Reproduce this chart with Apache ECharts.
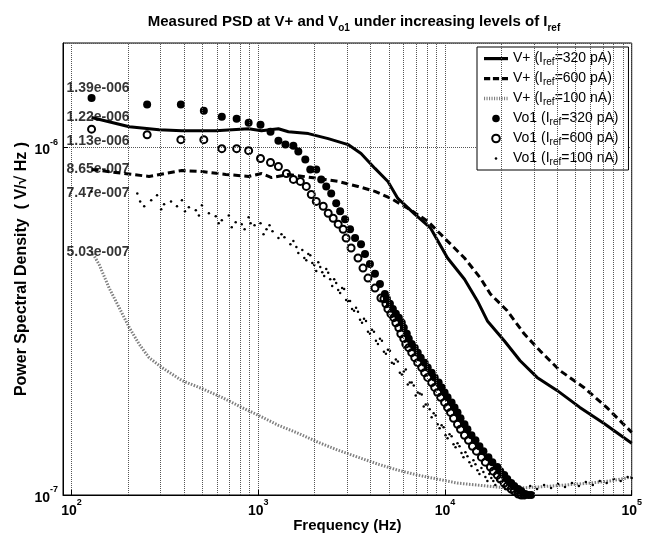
<!DOCTYPE html>
<html><head><meta charset="utf-8">
<script src="https://cdn.jsdelivr.net/npm/echarts@6/dist/echarts.min.js"></script>
<style>html,body{margin:0;padding:0;background:#fff}#c{width:645px;height:538px}</style>
</head><body><div id="c"></div>
<script>
// ---- data (frequency in Hz, PSD in V/sqrt(Hz)) ----
const freqVp320 = [128,204,294,390,592,888,1041,1282,1450,1854,2369,3027,3551,4217,4947,5590,6887,8380,10320,12720,14920,16870,20770,25270,31130,39810,52780,70800,100000];
const psdVp320  = [1.22e-6,1.148e-6,1.126e-6,1.118e-6,1.118e-6,1.133e-6,1.118e-6,1.133e-6,1.111e-6,1.097e-6,1.061e-6,1.020e-6,0.961e-6,0.871e-6,0.799e-6,0.714e-6,0.643e-6,0.586e-6,0.481e-6,0.418e-6,0.362e-6,0.317e-6,0.278e-6,0.2435e-6,0.218e-6,0.200e-6,0.1787e-6,0.1608e-6,0.141e-6];

const freqVp600 = [128,211,260,390,499,670,888,1041,1178,1450,2096,2679,3421,4217,5129,6319,8077,10320,12720,15480,17500,21550,26550,32310,41300,55420,73450,100000];
const psdVp600  = [8.65e-7,8.37e-7,8.26e-7,8.59e-7,8.53e-7,8.37e-7,8.26e-7,8.42e-7,8.20e-7,8.37e-7,8.15e-7,7.99e-7,7.73e-7,7.48e-7,7.14e-7,6.69e-7,6.14e-7,5.38e-7,4.81e-7,4.21e-7,3.79e-7,3.39e-7,2.91e-7,2.60e-7,2.28e-7,2.04e-7,1.787e-7,1.515e-7];

const freqVp100 = [128,141,159,180,204,230,260,305,390,499,638,815,1004,1282,1639,2096,2679,3421,4375,5590,7145,9133,11670,14920,19070,24370,31130,43360,59660,76210,100000];
const psdVp100  = [5.03e-7,4.59e-7,3.94e-7,3.46e-7,3.03e-7,2.72e-7,2.485e-7,2.327e-7,2.135e-7,2.025e-7,1.91e-7,1.787e-7,1.695e-7,1.587e-7,1.505e-7,1.418e-7,1.345e-7,1.285e-7,1.227e-7,1.179e-7,1.141e-7,1.111e-7,1.082e-7,1.068e-7,1.054e-7,1.047e-7,1.054e-7,1.068e-7,1.082e-7,1.097e-7,1.126e-7];

const freqVo320 = [128,254,385,511,638,766,888,1028,1163,1282,1398,1542,1639,1786,1899,2045,2173,2312,2458,2614,2745,2917,3102,3299,3551,3729,3963,4217,4484,
  4766,4886,5070,5258,5456,5659,5872,6017,6244,6397,6637,6887,7145,7413,7783,8077,8483,8806,9245,9592,9952,10320,10850,11250,11670,12110,12720,13190,13860,14560,15290,16060,17080,17930,19070,19780,20770,21550,22630,23490,24670,25600,26880,27890,28930];
const psdVo320  = [1.39e-6,1.33e-6,1.33e-6,1.276e-6,1.227e-6,1.211e-6,1.179e-6,1.164e-6,1.111e-6,1.047e-6,1.020e-6,1.013e-6,0.974e-6,0.924e-6,0.865e-6,0.865e-6,0.810e-6,0.773e-6,0.738e-6,0.691e-6,0.656e-6,0.622e-6,0.582e-6,0.549e-6,0.527e-6,0.494e-6,0.462e-6,0.433e-6,0.405e-6,
  0.379e-6,0.367e-6,0.355e-6,0.3433e-6,0.3322e-6,0.324e-6,0.3132e-6,0.303e-6,0.291e-6,0.2818e-6,0.272e-6,0.2655e-6,0.2569e-6,0.2485e-6,0.2404e-6,0.2327e-6,0.225e-6,0.218e-6,0.2107e-6,0.204e-6,0.1973e-6,0.191e-6,0.1847e-6,0.1787e-6,0.1729e-6,0.1662e-6,0.1597e-6,0.1546e-6,0.1486e-6,0.1437e-6,0.1381e-6,0.1337e-6,0.1285e-6,0.1243e-6,0.1203e-6,0.1171e-6,0.1141e-6,0.1111e-6,0.1082e-6,0.1061e-6,0.104e-6,0.1027e-6,0.1007e-6,0.100e-6,0.100e-6];

const freqVo600 = [128,254,385,511,638,766,888,1028,1163,1282,1415,1542,1680,1808,1923,2045,2228,2369,2519,2679,2848,2954,3141,3421,3638,3869,4217,4539,
  4709,4826,4947,5131,5324,5456,5659,5800,6017,6167,6397,6637,6887,7145,7506,7783,8077,8483,8806,9133,9476,9952,10320,10710,11110,11670,12110,12720,13360,14030,14740,15670,16450,17500,18150,19070,19780,20770,21550,22630,23490,24670,25600,26550];
const psdVo600  = [1.13e-6,1.089e-6,1.054e-6,1.054e-6,0.993e-6,0.993e-6,0.980e-6,0.930e-6,0.906e-6,0.882e-6,0.842e-6,0.810e-6,0.799e-6,0.773e-6,0.733e-6,0.700e-6,0.678e-6,0.647e-6,0.626e-6,0.602e-6,0.582e-6,0.549e-6,0.514e-6,0.481e-6,0.450e-6,0.421e-6,0.394e-6,0.369e-6,
  0.367e-6,0.355e-6,0.3433e-6,0.3322e-6,0.324e-6,0.3132e-6,0.303e-6,0.291e-6,0.2818e-6,0.272e-6,0.2655e-6,0.2569e-6,0.2485e-6,0.2404e-6,0.2327e-6,0.225e-6,0.218e-6,0.2107e-6,0.204e-6,0.1973e-6,0.191e-6,0.1847e-6,0.1787e-6,0.1729e-6,0.1662e-6,0.1597e-6,0.1546e-6,0.1486e-6,0.1437e-6,0.1381e-6,0.1337e-6,0.1285e-6,0.1243e-6,0.1203e-6,0.1171e-6,0.1141e-6,0.1111e-6,0.1082e-6,0.1061e-6,0.104e-6,0.1027e-6,0.1007e-6,0.100e-6,0.100e-6];

const freqVo100 = [128,225,245,267,287,313,341,367,390,425,463,499,544,592,638,695,757,815,888,955,1028,1107,1192,1282,1381,1486,1600,
  1722,1808,1899,1995,2096,2201,2312,2428,2550,2679,2813,2954,3102,3258,3421,3595,3776,3963,4165,4375,4595,4826,5070,5324,5590,5872,6167,6477,6804,7145,7506,7882,8279,8697,9133,9592,10070,10580,11110,11670,12260,12870,13520,14200,14920,15670,16450,17280,18150,19070,20270,21550,22920,24370,
  26230,28590,31130,33940,36980,40300,43910,47840,52130,56800,61890,67450,73450,80110,87290,95100,100000,
  1765,1854,1947,2045,2147,2255,2369,2488,2614,2745,2883,3027,3180,3340,3508,3684,3869,4064,4268,4484,4709,4947,5193,5456,5731,6017,6319,6637,6972,7322,7691,8077,8483,8913,9359,9829,10320,10850,11390,11960,12560,13190,13860,14560,15290,16060,16870,17710,18600,19780,21030,22360,23780,
  233,302,405,481,614,721,845,910,1067,1149,1331,1542,1639];
const psdVo100  = [7.47e-7,7.38e-7,6.78e-7,7.05e-7,7.29e-7,6.87e-7,7.00e-7,6.78e-7,7.05e-7,6.73e-7,6.60e-7,6.82e-7,6.47e-7,6.34e-7,6.18e-7,6.38e-7,6.10e-7,6.02e-7,6.30e-7,5.98e-7,6.06e-7,5.82e-7,5.74e-7,5.49e-7,5.52e-7,5.27e-7,5.17e-7,
  5.07e-7,4.74e-7,4.90e-7,4.59e-7,4.68e-7,4.38e-7,4.47e-7,4.18e-7,4.18e-7,3.89e-7,3.94e-7,3.64e-7,3.62e-7,3.39e-7,3.367e-7,3.132e-7,3.17e-7,2.91e-7,2.95e-7,2.72e-7,2.78e-7,2.552e-7,2.60e-7,2.388e-7,2.421e-7,2.222e-7,2.296e-7,2.107e-7,2.066e-7,1.973e-7,1.948e-7,1.823e-7,1.764e-7,1.718e-7,1.597e-7,1.587e-7,1.486e-7,1.496e-7,1.40e-7,1.41e-7,1.32e-7,1.328e-7,1.243e-7,1.26e-7,1.179e-7,1.195e-7,1.126e-7,1.149e-7,1.097e-7,1.104e-7,1.061e-7,1.075e-7,1.04e-7,1.054e-7,
  1.033e-7,1.061e-7,1.04e-7,1.068e-7,1.047e-7,1.075e-7,1.054e-7,1.082e-7,1.061e-7,1.09e-7,1.068e-7,1.097e-7,1.082e-7,1.111e-7,1.097e-7,1.126e-7,1.119e-7,
  4.81e-7,4.94e-7,4.65e-7,4.41e-7,4.53e-7,4.27e-7,4.36e-7,3.996e-7,4.076e-7,3.817e-7,3.918e-7,3.62e-7,3.433e-7,3.46e-7,3.193e-7,3.214e-7,2.95e-7,2.989e-7,2.78e-7,2.818e-7,2.586e-7,2.62e-7,2.404e-7,2.453e-7,2.25e-7,2.266e-7,2.08e-7,2.107e-7,1.935e-7,1.96e-7,1.799e-7,1.823e-7,1.673e-7,1.695e-7,1.556e-7,1.566e-7,1.457e-7,1.476e-7,1.373e-7,1.381e-7,1.285e-7,1.293e-7,1.211e-7,1.227e-7,1.149e-7,1.164e-7,1.097e-7,1.119e-7,1.068e-7,1.09e-7,1.04e-7,1.061e-7,1.027e-7,
  7.00e-7,6.64e-7,6.56e-7,6.38e-7,6.06e-7,5.90e-7,5.82e-7,6.06e-7,5.63e-7,5.98e-7,5.63e-7,5.38e-7,4.97e-7];

const seriesNames = ['V+ (Iref=320 pA)','V+ (Iref=600 pA)','V+ (Iref=100 nA)','Vo1 (Iref=320 pA)','Vo1 (Iref=600 pA)','Vo1 (Iref=100 nA)'];
const titleParts = ['Measured PSD at V+ and V','o1',' under increasing levels of I','ref'];
const xAxisName = 'Frequency (Hz)';
const yAxisName = 'Power Spectral Density  ( V/\u221A Hz )';
const minorFreqGrid = [200,300,400,500,600,700,800,900,2000,3000,4000,5000,6000,7000,8000,9000,20000,30000,40000,50000,60000,70000,80000,90000];
const minorPsdGrid = [2e-7,3e-7,4e-7,5e-7,6e-7,7e-7,8e-7,9e-7];

// ---- helpers ----
const FONT = '"Liberation Sans", Arial, Helvetica, sans-serif';
const pairs = (xs, ys) => xs.map((x, i) => [x, ys[i]]);
function isPow10(v){ const l = Math.log10(v); return Math.abs(l - Math.round(l)) < 1e-6; }
function powLabel(v){ if (!isPow10(v)) return ''; return '{b|10}{s|' + Math.round(Math.log10(v)) + '}'; }
function matlabExp(v){
  const s = v.toExponential(2); const parts = s.split('e'); const n = parseInt(parts[1], 10);
  return parts[0] + 'e' + (n < 0 ? '-' : '+') + String(Math.abs(n)).padStart(3, '0');
}
const supRich = {
  b: {fontSize: 14, fontWeight: 'bold', fontFamily: FONT, color: '#000', lineHeight: 20, verticalAlign: 'bottom'},
  s: {fontSize: 9, fontWeight: 'bold', fontFamily: FONT, color: '#000', lineHeight: 20, verticalAlign: 'top'}
};
function legendFmt(name){
  return name.replace(/\(Iref=/, '(I{sub|ref}{n|=').replace(/^(\S+) \(/, '{n|$1 (}').replace(/\)$/, ')}');
}

// legend icons (bounding box 240x140 maps onto 24x14 icon box)
const BOX = 'path://M0,0M240,140';
const solidIcon  = BOX + 'M0,55h240v32h-240z';
const dashIcon   = BOX + 'M0,55h62v32h-62zM89,55h62v32h-62zM178,55h62v32h-62z';
let dotLineIcon = BOX;
for (let i = 0; i < 10; i++) dotLineIcon += 'M' + (i * 25) + ',52h11v36h-11z';
const dotIcon    = BOX + 'M107,70a13,13 0 1,0 26,0a13,13 0 1,0 -26,0z';
const circleIcon = BOX + 'M82,70a38,38 0 1,0 76,0a38,38 0 1,0 -76,0z';

const firsts = [[freqVo320, psdVo320], [freqVp320, psdVp320], [freqVo600, psdVo600], [freqVp600, psdVp600], [freqVo100, psdVo100], [freqVp100, psdVp100]];
const labelOffsets = [[-25, -10], [-25, 0], [-25, 12], [-25, 0], [-25, 2], [-25, 1]];

const chart = echarts.init(document.getElementById('c'), null, {renderer: 'canvas'});
chart.setOption({
  animation: false,
  backgroundColor: '#fff',
  title: {
    text: '{t|' + titleParts[0] + '}{s|' + titleParts[1] + '}{t|' + titleParts[2] + '}{s|' + titleParts[3] + '}',
    left: 349, textAlign: 'center', top: 6,
    textStyle: {
      rich: {
        t: {fontSize: 15, fontWeight: 'bold', fontFamily: FONT, color: '#000', lineHeight: 22},
        s: {fontSize: 10, fontWeight: 'bold', fontFamily: FONT, color: '#000', lineHeight: 22, verticalAlign: 'bottom'}
      }
    }
  },
  legend: {
    orient: 'vertical', left: 477, top: 47,
    padding: [3, 10, 3, 6], itemGap: 3, itemWidth: 24, itemHeight: 14,
    borderColor: '#000', borderWidth: 1, backgroundColor: '#fff',
    data: [
      {name: seriesNames[0], icon: solidIcon, itemStyle: {color: '#000', borderWidth: 0}},
      {name: seriesNames[1], icon: dashIcon, itemStyle: {color: '#000', borderWidth: 0}},
      {name: seriesNames[2], icon: dotLineIcon, itemStyle: {color: '#808080', borderWidth: 0}},
      {name: seriesNames[3], icon: circleIcon},
      {name: seriesNames[4], icon: circleIcon},
      {name: seriesNames[5], icon: dotIcon}
    ],
    formatter: legendFmt,
    textStyle: {
      fontSize: 14, fontFamily: FONT, color: '#000', lineHeight: 17,
      rich: {
        n: {fontSize: 14, fontFamily: FONT, color: '#000', lineHeight: 17},
        sub: {fontSize: 10, fontFamily: FONT, color: '#000', lineHeight: 17, verticalAlign: 'bottom'}
      }
    }
  },
  grid: {left: 63, right: 10, top: 43, bottom: 43, show: true, borderColor: '#000', borderWidth: 1, backgroundColor: '#fff'},
  xAxis: {
    type: 'log', logBase: 10, min: 90, max: 100000, splitNumber: 3,
    name: xAxisName, nameLocation: 'middle', nameGap: 23, nameMoveOverlap: false,
    nameTextStyle: {fontSize: 15, fontWeight: 'bold', fontFamily: FONT, color: '#000'},
    axisLine: {show: true, lineStyle: {color: '#000', width: 1}},
    axisTick: {show: true, inside: true, length: 5, lineStyle: {color: '#000'}},
    axisLabel: {formatter: powLabel, margin: 3, rich: supRich, showMinLabel: false},
    splitLine: {show: true, lineStyle: {color: '#555', type: 'dotted', width: 1}}
  },
  yAxis: {
    type: 'log', logBase: 10, min: 1e-7, max: 2e-6, splitNumber: 2,
    name: yAxisName, nameLocation: 'middle', nameGap: 33, nameMoveOverlap: false,
    nameTextStyle: {fontSize: 16, fontWeight: 'bold', fontFamily: FONT, color: '#000'},
    axisLine: {show: true, lineStyle: {color: '#000', width: 1}},
    axisTick: {show: true, inside: true, length: 5, lineStyle: {color: '#000'}},
    axisLabel: {formatter: powLabel, margin: 5, rich: supRich, showMaxLabel: false},
    splitLine: {show: true, lineStyle: {color: '#555', type: 'dotted', width: 1}}
  },
  series: [
    {
      name: '_grid', type: 'line', data: [], silent: true, z: 1,
      markLine: {
        silent: true, symbol: ['none', 'none'], label: {show: false}, animation: false,
        lineStyle: {color: '#555', type: 'dotted', width: 1},
        emphasis: {disabled: true},
        data: minorFreqGrid.map(v => ({xAxis: v})).concat(minorPsdGrid.map(v => ({yAxis: v})))
      }
    },
    {name: seriesNames[0], type: 'line', data: pairs(freqVp320, psdVp320), symbol: 'none', showSymbol: false, z: 3,
     lineStyle: {color: '#000', width: 3}, itemStyle: {color: '#000'}},
    {name: seriesNames[1], type: 'line', data: pairs(freqVp600, psdVp600), symbol: 'none', showSymbol: false, z: 3,
     lineStyle: {color: '#000', width: 3, type: [7, 4]}, itemStyle: {color: '#000'}},
    {name: seriesNames[2], type: 'line', data: pairs(freqVp100, psdVp100), symbol: 'none', showSymbol: false, z: 3,
     lineStyle: {color: '#808080', width: 3, type: [1.5, 1.5]}, itemStyle: {color: '#808080'}},
    {name: seriesNames[3], type: 'scatter', data: pairs(freqVo320, psdVo320), symbol: 'circle', symbolSize: 8, z: 4,
     itemStyle: {color: '#000', opacity: 1}},
    {name: seriesNames[4], type: 'scatter', data: pairs(freqVo600, psdVo600), symbol: 'circle', symbolSize: 7, z: 4,
     itemStyle: {color: 'rgba(0,0,0,0)', borderColor: '#000', borderWidth: 2, opacity: 1}},
    {name: seriesNames[5], type: 'scatter', data: pairs(freqVo100, psdVo100), symbol: 'circle', symbolSize: 2.5, z: 4,
     itemStyle: {color: '#000', opacity: 1}},
    {
      name: '_labels', type: 'scatter', symbolSize: 1, silent: true, z: 6,
      itemStyle: {color: 'rgba(0,0,0,0)'},
      data: firsts.map((s, i) => ({value: [s[0][0], s[1][0]], label: {offset: labelOffsets[i]}})),
      label: {
        show: true, position: 'inside', align: 'left', verticalAlign: 'middle',
        formatter: p => matlabExp(p.value[1]),
        fontSize: 14, fontWeight: 'bold', fontFamily: FONT, color: '#000'
      }
    }
  ]
});
</script></body></html>
